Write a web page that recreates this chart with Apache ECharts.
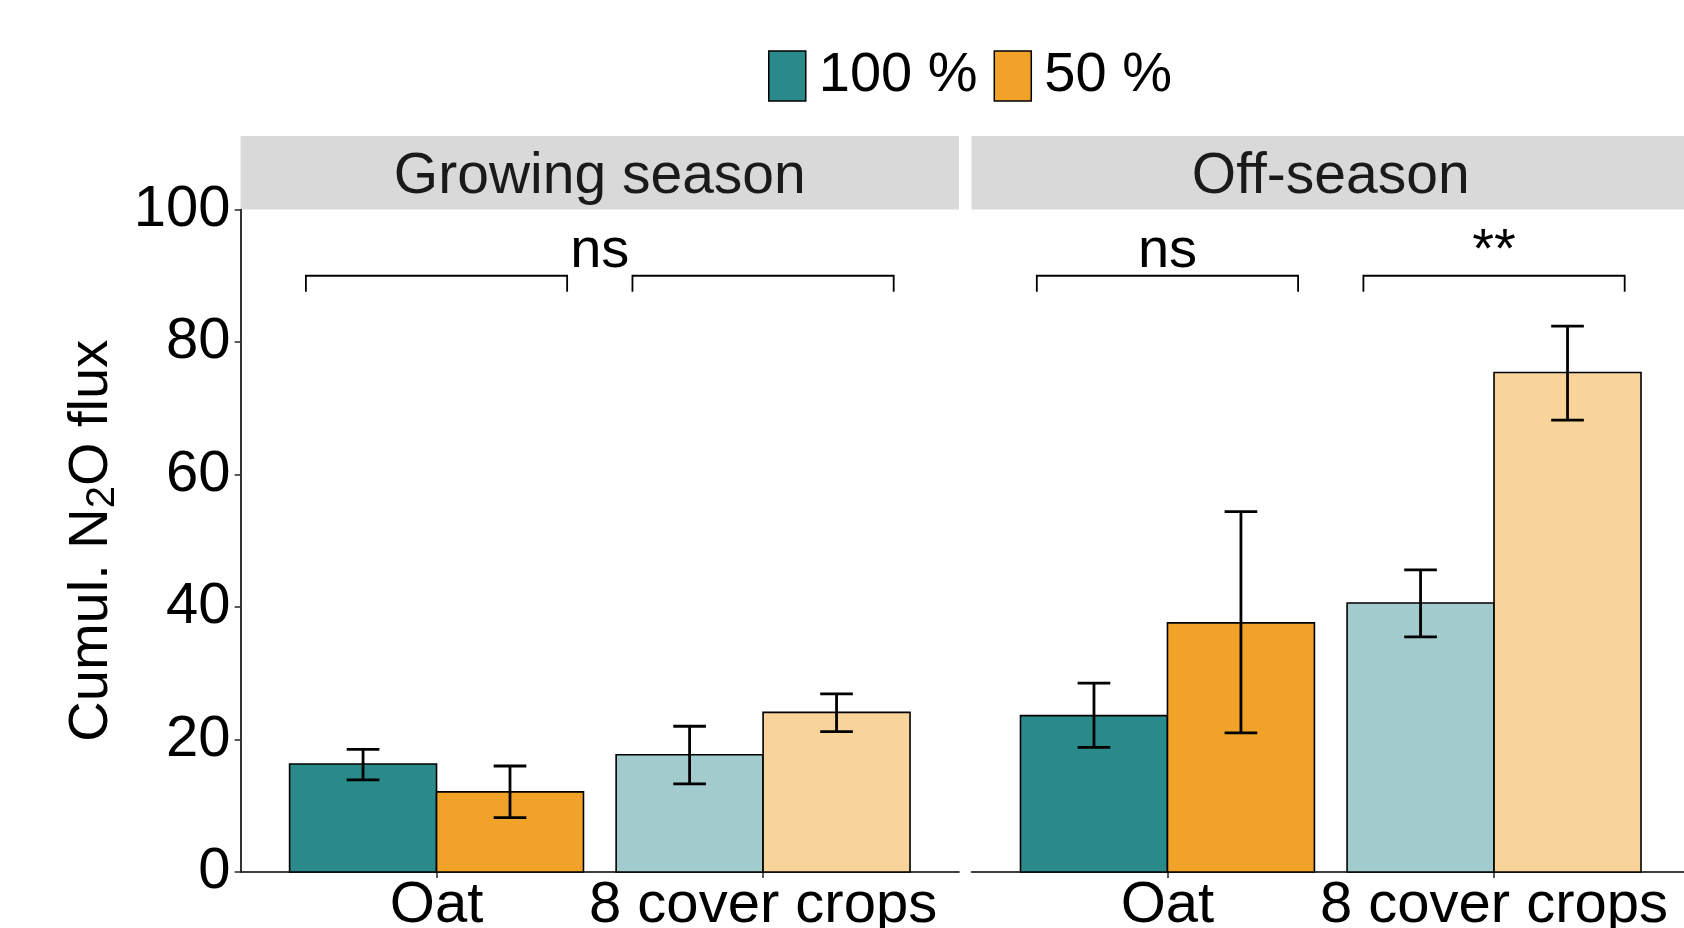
<!DOCTYPE html>
<html>
<head>
<meta charset="utf-8">
<script src="https://cdn.jsdelivr.net/npm/echarts@6/dist/echarts.min.js"></script>
<style>
html,body{margin:0;padding:0;background:#fff;}
#chart{width:1684px;height:928px;}
</style>
</head>
<body>
<div id="chart"></div>
<script>
// ---------- data ----------
const categories = ['Oat', '8 cover crops'];
const seasons = ['Growing season', 'Off-season'];
const treatments = ['100 %', '50 %'];

const growing100Mean = [16.3, 17.7];
const growing100Low  = [13.9, 13.3];
const growing100High = [18.5, 22.0];
const growing50Mean  = [12.1, 24.1];
const growing50Low   = [8.2, 21.2];
const growing50High  = [16.0, 26.9];

const off100Mean = [23.6, 40.6];
const off100Low  = [18.8, 35.5];
const off100High = [28.5, 45.6];
const off50Mean  = [37.6, 75.4];
const off50Low   = [21.0, 68.2];
const off50High  = [54.4, 82.4];

const yTicks = [0, 20, 40, 60, 80, 100];

// significance brackets: [from, to] in category units
const growingBrackets = [[0.6, 1.4], [1.6, 2.4]];
const offBrackets     = [[0.6, 1.4], [1.6, 2.4]];
const bracketLevel = 90;
const bracketTip   = 87.6;
const growingLabelPos  = [1.5];
const growingLabelText = ['ns'];
const offLabelPos      = [1, 2];
const offLabelText     = ['ns', '**'];

// ---------- styles ----------
const FONT = 'Liberation Sans, Arial, Helvetica, sans-serif';
const darkColors  = ['#2A8A8A', '#F0A229'];
const lightColors = ['#A1CBCC', '#F8D49A'];
const DODGE = 0.45, CAP = 0.05;

function barSeries(gridIdx, treat, means, lows, highs) {
  return {
    type: 'custom',
    name: treatments[treat],
    xAxisIndex: gridIdx,
    yAxisIndex: gridIdx,
    itemStyle: { color: darkColors[treat] },
    clip: false,
    data: means.map((m, i) => [i + 1, m, lows[i], highs[i]]),
    encode: { x: 0, y: 1 },
    renderItem: function (params, api) {
      const c = api.value(0), m = api.value(1), lo = api.value(2), hi = api.value(3);
      const x0 = treat === 0 ? c - DODGE : c;
      const x1 = x0 + DODGE;
      const ex = (x0 + x1) / 2;
      const pTop = api.coord([x0, m]);
      const pBot = api.coord([x1, 0]);
      const eT = api.coord([ex, hi]);
      const eB = api.coord([ex, lo]);
      const cl = api.coord([ex - CAP, hi])[0];
      const cr = api.coord([ex + CAP, hi])[0];
      const fill = (c === 1 ? darkColors : lightColors)[treat];
      return {
        type: 'group',
        children: [
          { type: 'rect', shape: { x: pTop[0], y: pTop[1], width: pBot[0] - pTop[0], height: pBot[1] - pTop[1] },
            style: { fill: fill, stroke: '#000', lineWidth: 1.6 } },
          { type: 'line', shape: { x1: eT[0], y1: eT[1], x2: eB[0], y2: eB[1] }, style: { stroke: '#000', lineWidth: 2.8 } },
          { type: 'line', shape: { x1: cl, y1: eT[1], x2: cr, y2: eT[1] }, style: { stroke: '#000', lineWidth: 2.8 } },
          { type: 'line', shape: { x1: cl, y1: eB[1], x2: cr, y2: eB[1] }, style: { stroke: '#000', lineWidth: 2.8 } }
        ]
      };
    }
  };
}

function bracketSeries(gridIdx, brackets) {
  return {
    type: 'custom',
    xAxisIndex: gridIdx, yAxisIndex: gridIdx,
    silent: true, clip: false,
    data: brackets.map(b => [b[0], b[1], bracketLevel, bracketTip]),
    encode: { x: [0, 1], y: 2 },
    renderItem: function (params, api) {
      const a = api.value(0), b = api.value(1), lv = api.value(2), tp = api.value(3);
      const p1 = api.coord([a, tp]), p2 = api.coord([a, lv]), p3 = api.coord([b, lv]), p4 = api.coord([b, tp]);
      return { type: 'polyline', shape: { points: [p1, p2, p3, p4] }, style: { stroke: '#000', lineWidth: 1.8, fill: null } };
    }
  };
}

function labelSeries(gridIdx, pos, texts) {
  return {
    type: 'custom',
    xAxisIndex: gridIdx, yAxisIndex: gridIdx,
    silent: true, clip: false,
    data: pos.map(p => [p, bracketLevel]),
    encode: { x: 0, y: 1 },
    renderItem: function (params, api) {
      const p = api.coord([api.value(0), api.value(1)]);
      return { type: 'text', x: p[0], y: p[1] + 4,
        style: { text: texts[params.dataIndex], fontSize: 56, fontFamily: FONT, fill: '#000',
                 align: 'center', verticalAlign: 'bottom', textAlign: 'center', textVerticalAlign: 'bottom' } };
    }
  };
}

const grids = [
  { left: 240.6, right: 725, top: 209.5, bottom: 56, outerBoundsMode: 'none', containLabel: false },
  { left: 971.5, right: -6, top: 209.5, bottom: 56, outerBoundsMode: 'none', containLabel: false }
];

function xAxisFor(i) {
  return {
    type: 'value', gridIndex: i, min: 0.4, max: 2.6,
    axisLine: { show: true, onZero: false, lineStyle: { color: '#000', width: 1.6 } },
    axisTick: { show: true, customValues: [1, 2], length: 6, lineStyle: { color: '#333', width: 1.6 } },
    axisLabel: { show: true, customValues: [1, 2], formatter: v => categories[Math.round(v) - 1],
                 fontSize: 58, fontFamily: FONT, color: '#000', margin: 5 },
    splitLine: { show: false }
  };
}

const option = {
  backgroundColor: '#fff',
  animation: false,
  grid: grids,
  legend: {
    left: 768, top: 48, padding: 0,
    itemWidth: 37, itemHeight: 50, itemGap: 16, icon: 'rect',
    data: treatments,
    itemStyle: { borderColor: '#000', borderWidth: 1.5 },
    textStyle: { fontSize: 56, fontFamily: FONT, color: '#000', padding: [4, 0, 0, 8] }
  },
  xAxis: [xAxisFor(0), xAxisFor(1)],
  yAxis: [
    {
      type: 'value', gridIndex: 0, min: yTicks[0], max: yTicks[yTicks.length - 1], interval: 20,
      axisLine: { show: true, lineStyle: { color: '#000', width: 1.6 } },
      axisTick: { show: true, length: 6, lineStyle: { color: '#333', width: 1.6 } },
      axisLabel: { fontSize: 58, fontFamily: FONT, color: '#000', margin: 10 },
      splitLine: { show: false },
      name: '{a|Cumul. N}{b|2}{a|O flux}',
      nameLocation: 'middle', nameRotate: 90, nameGap: 118,
      nameTextStyle: {
        rich: {
          a: { fontSize: 56, fontFamily: FONT, color: '#000', lineHeight: 62 },
          b: { fontSize: 40, fontFamily: FONT, color: '#000', verticalAlign: 'bottom', lineHeight: 40 }
        }
      }
    },
    { type: 'value', gridIndex: 1, min: 0, max: 100, interval: 20, show: false }
  ],
  graphic: [
    { type: 'rect', shape: { x: 240.6, y: 136, width: 718.4, height: 73.5 }, style: { fill: '#D9D9D9' }, z: 0 },
    { type: 'rect', shape: { x: 971.5, y: 136, width: 718.5, height: 73.5 }, style: { fill: '#D9D9D9' }, z: 0 },
    { type: 'text', x: 599.8, y: 177, z: 1,
      style: { text: seasons[0], fontSize: 57, fontFamily: FONT, fill: '#1A1A1A', align: 'center', verticalAlign: 'middle', textAlign: 'center', textVerticalAlign: 'middle' } },
    { type: 'text', x: 1330.7, y: 177, z: 1,
      style: { text: seasons[1], fontSize: 57, fontFamily: FONT, fill: '#1A1A1A', align: 'center', verticalAlign: 'middle', textAlign: 'center', textVerticalAlign: 'middle' } }
  ],
  series: [
    barSeries(0, 0, growing100Mean, growing100Low, growing100High),
    barSeries(0, 1, growing50Mean, growing50Low, growing50High),
    barSeries(1, 0, off100Mean, off100Low, off100High),
    barSeries(1, 1, off50Mean, off50Low, off50High),
    bracketSeries(0, growingBrackets),
    bracketSeries(1, offBrackets),
    labelSeries(0, growingLabelPos, growingLabelText),
    labelSeries(1, offLabelPos, offLabelText)
  ]
};

const chart = echarts.init(document.getElementById('chart'), null, { renderer: 'canvas' });
chart.setOption(option);
</script>
</body>
</html>
